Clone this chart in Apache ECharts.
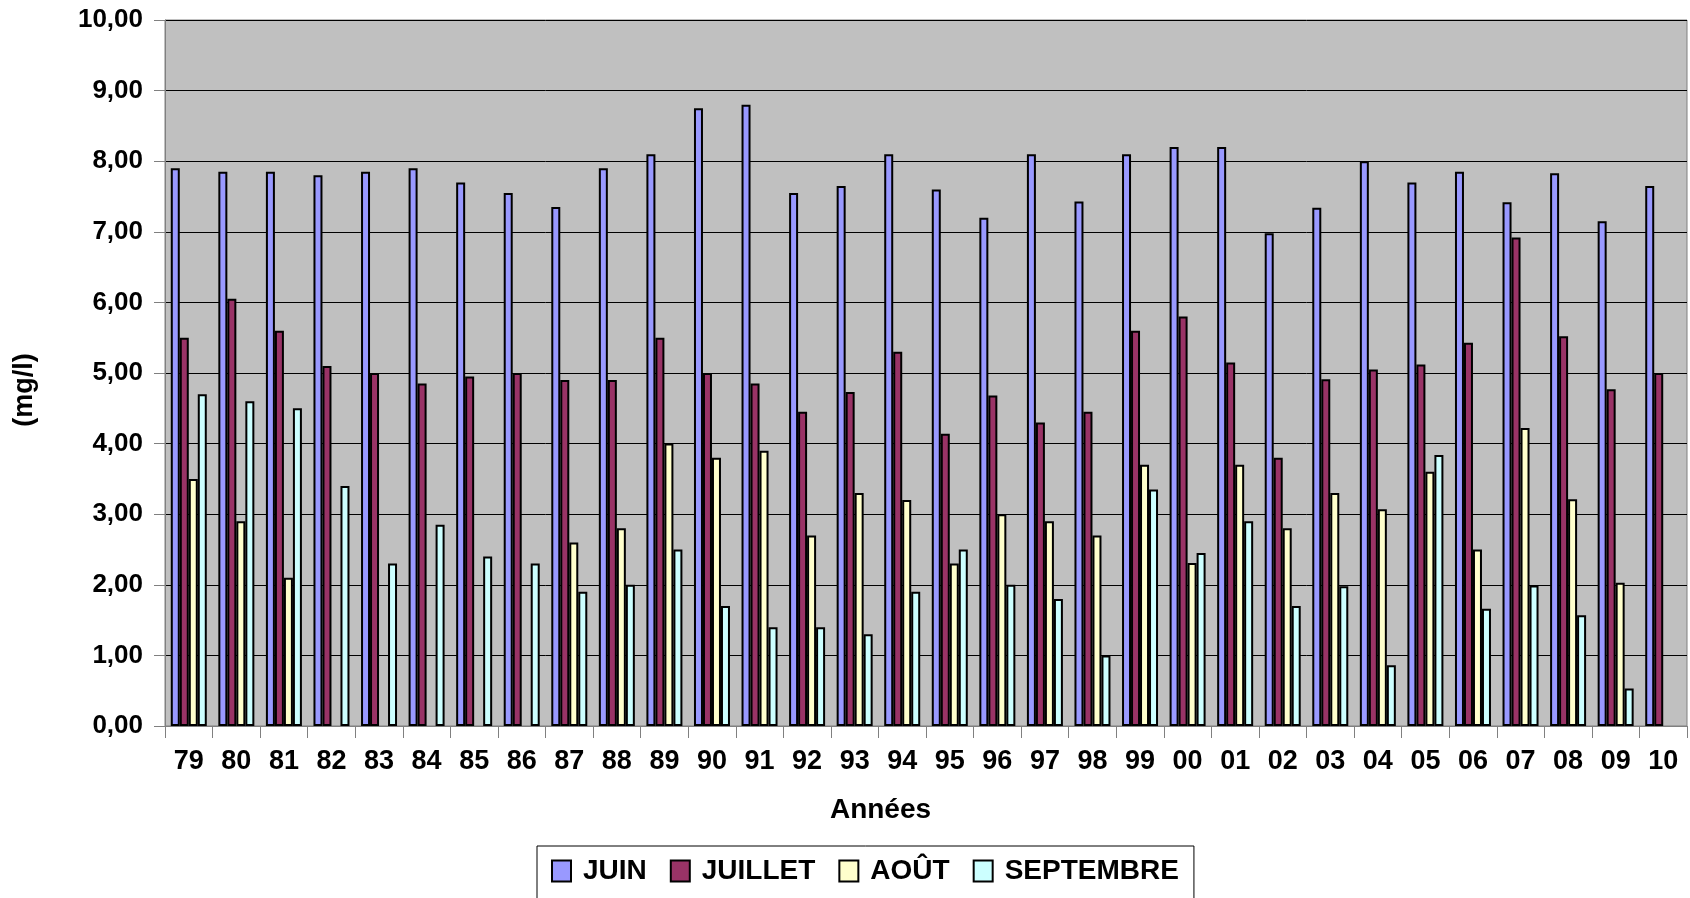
<!DOCTYPE html>
<html>
<head>
<meta charset="utf-8">
<script src="https://cdn.jsdelivr.net/npm/echarts@6/dist/echarts.min.js"></script>
<style>
  html, body { margin: 0; padding: 0; background: #fff; }
  #chart { width: 1690px; height: 898px; }
</style>
</head>
<body>
<div id="chart"></div>
<script>
var annees = ['79','80','81','82','83','84','85','86','87','88','89','90','91','92','93','94',
              '95','96','97','98','99','00','01','02','03','04','05','06','07','08','09','10'];

var juin = [7.9, 7.85, 7.85, 7.8, 7.85, 7.9, 7.7, 7.55, 7.35, 7.9, 8.1, 8.75, 8.8, 7.55, 7.65, 8.1,
            7.6, 7.2, 8.1, 7.43, 8.1, 8.2, 8.2, 6.98, 7.34, 8.0, 7.7, 7.85, 7.42, 7.83, 7.15, 7.65];

var juillet = [5.5, 6.05, 5.6, 5.1, 5.0, 4.85, 4.95, 5.0, 4.9, 4.9, 5.5, 5.0, 4.85, 4.45, 4.73, 5.3,
               4.14, 4.68, 4.3, 4.45, 5.6, 5.8, 5.15, 3.8, 4.91, 5.05, 5.12, 5.43, 6.92, 5.52, 4.77, 5.0];

var aout = [3.5, 2.9, 2.1, null, null, null, null, null, 2.6, 2.8, 4.0, 3.8, 3.9, 2.7, 3.3, 3.2,
            2.3, 3.0, 2.9, 2.7, 3.7, 2.31, 3.7, 2.8, 3.3, 3.07, 3.6, 2.5, 4.22, 3.21, 2.03, null];

var septembre = [4.7, 4.6, 4.5, 3.4, 2.3, 2.85, 2.4, 2.3, 1.9, 2.0, 2.5, 1.7, 1.4, 1.4, 1.3, 1.9,
                 2.5, 2.0, 1.8, 1.0, 3.35, 2.45, 2.9, 1.7, 1.98, 0.86, 3.84, 1.66, 1.99, 1.57, 0.53, null];

var mois = ['JUIN', 'JUILLET', 'AOÛT', 'SEPTEMBRE'];
var couleurs = ['#9999FF', '#993366', '#FFFFCC', '#CCFFFF'];

var font = "'Liberation Sans', Arial, sans-serif";

function barSerie(i, data) {
    return {
        name: mois[i],
        type: 'bar',
        barWidth: 9,
        barGap: '0%',
        itemStyle: { color: couleurs[i], borderColor: '#000', borderWidth: 2 },
        emphasis: { disabled: true },
        data: data
    };
}

// legend squares drawn as rich text boxes so they keep their black outline
var legendRich = {
    t: { fontFamily: font, fontSize: 28, fontWeight: 'bold', color: '#000', padding: [0, 0, 0, 13] }
};
couleurs.forEach(function (c, i) {
    legendRich['b' + i] = { width: 17, height: 19, backgroundColor: c, borderColor: '#000', borderWidth: 2 };
});

var myChart = echarts.init(document.getElementById('chart'));
var option = {
    animation: false,
    textStyle: { fontFamily: font },
    grid: {
        left: 165,
        right: 3,
        top: 20,
        bottom: 172,
        show: true,
        backgroundColor: '#C0C0C0',
        borderColor: '#808080',
        borderWidth: 1
    },
    legend: {
        left: 537,
        top: 846,
        padding: [11, 15, 20, 11],
        itemGap: 20,
        itemWidth: 0,
        itemHeight: 18,
        icon: 'none',
        borderColor: '#000',
        borderWidth: 1,
        formatter: function (name) {
            return '{b' + mois.indexOf(name) + '|}{t|' + name + '}';
        },
        textStyle: { fontFamily: font, fontSize: 28, fontWeight: 'bold', color: '#000', rich: legendRich },
        data: mois
    },
    xAxis: {
        type: 'category',
        data: annees,
        name: 'Années',
        nameLocation: 'middle',
        nameGap: 70,
        nameTextStyle: {
            fontFamily: font,
            fontSize: 28,
            fontWeight: 'bold',
            color: '#000',
            padding: [0, 91, 0, 0]
        },
        axisLine: { lineStyle: { color: '#808080', width: 1 } },
        axisTick: { show: true, length: 12, interval: 0, lineStyle: { color: '#808080' } },
        axisLabel: {
            interval: 0,
            margin: 22,
            fontFamily: font,
            fontSize: 27,
            fontWeight: 'bold',
            color: '#000'
        },
        splitLine: { show: false }
    },
    yAxis: {
        type: 'value',
        min: 0,
        max: 10,
        interval: 1,
        name: '(mg/l)',
        nameLocation: 'middle',
        nameRotate: 90,
        nameGap: 127,
        nameTextStyle: {
            fontFamily: font,
            fontSize: 27,
            fontWeight: 'bold',
            color: '#000',
            padding: [0, 34, 0, 0]
        },
        axisLine: { show: true, lineStyle: { color: '#808080', width: 1 } },
        axisTick: { show: true, length: 11, lineStyle: { color: '#808080' } },
        axisLabel: {
            margin: 22,
            fontFamily: font,
            fontSize: 26,
            fontWeight: 'bold',
            color: '#000',
            formatter: function (v) { return v.toFixed(2).replace('.', ','); }
        },
        splitLine: { show: true, lineStyle: { color: '#000', width: 1 } }
    },
    series: [
        barSerie(0, juin),
        barSerie(1, juillet),
        barSerie(2, aout),
        barSerie(3, septembre)
    ]
};
myChart.setOption(option);
</script>
</body>
</html>
